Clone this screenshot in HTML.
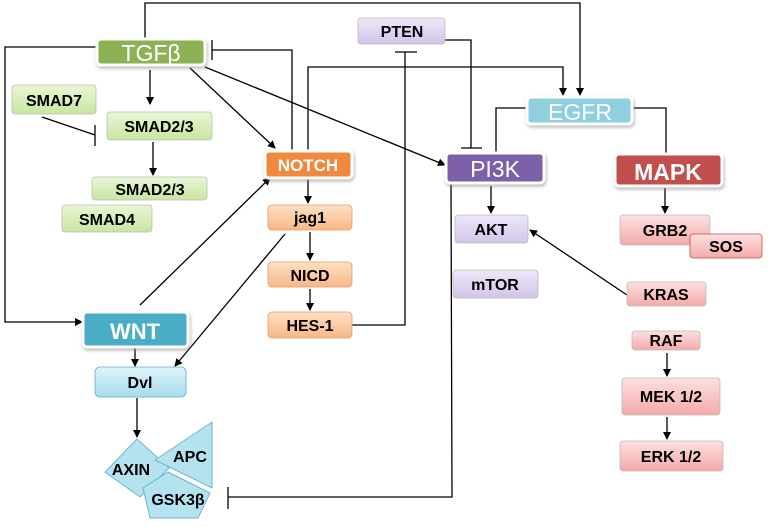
<!DOCTYPE html>
<html><head><meta charset="utf-8"><style>
body{margin:0;background:#fff;}
svg{display:block;font-family:"Liberation Sans",sans-serif;font-weight:bold;}
</style></head><body>
<svg width="768" height="527" viewBox="0 0 768 527" xmlns="http://www.w3.org/2000/svg">
<defs>
<marker id="a" markerWidth="8" markerHeight="8" refX="7" refY="4" orient="auto" markerUnits="userSpaceOnUse"><path d="M0,0 L8,4 L0,8z" fill="#000"/></marker>
<linearGradient id="gL" x1="0" y1="0" x2="0" y2="1"><stop offset="0" stop-color="#eaf6d6"/><stop offset="1" stop-color="#c8e6a0"/></linearGradient>
<linearGradient id="oL" x1="0" y1="0" x2="0" y2="1"><stop offset="0" stop-color="#fde0c4"/><stop offset="1" stop-color="#f8b888"/></linearGradient>
<linearGradient id="pL" x1="0" y1="0" x2="0" y2="1"><stop offset="0" stop-color="#efe8f8"/><stop offset="1" stop-color="#d2c4ea"/></linearGradient>
<linearGradient id="rL" x1="0" y1="0" x2="0" y2="1"><stop offset="0" stop-color="#fde0e0"/><stop offset="1" stop-color="#f4aaaa"/></linearGradient>
<linearGradient id="bL" x1="0" y1="0" x2="0" y2="1"><stop offset="0" stop-color="#def4fb"/><stop offset="1" stop-color="#a8dcec"/></linearGradient>
<filter id="sh" x="-10%" y="-20%" width="120%" height="150%"><feDropShadow dx="1" dy="2" stdDeviation="1.5" flood-color="#888" flood-opacity="0.6"/></filter>
</defs>
<g stroke="#000" stroke-width="1.3" fill="none">
<path d="M145,40 V3 H580 V95" marker-end="url(#a)"/>
<path d="M97,47 H5 V322 H82" marker-end="url(#a)"/>
<path d="M150,70 V104" marker-end="url(#a)"/>
<path d="M153,142 V175" marker-end="url(#a)"/>
<path d="M42,117 L95,135"/><path d="M95,125 V146"/>
<path d="M190,68 L275,148" marker-end="url(#a)"/>
<path d="M205,67 L445,165" marker-end="url(#a)"/>
<path d="M292,150 V50 H212"/><path d="M212,40 V60"/>
<path d="M308,150 V67 H563 V95" marker-end="url(#a)"/>
<path d="M308,178 V203" marker-end="url(#a)"/>
<path d="M310,232 V260" marker-end="url(#a)"/>
<path d="M310,289 V310" marker-end="url(#a)"/>
<path d="M140,305 L270,178" marker-end="url(#a)"/>
<path d="M285,234 L175,366" marker-end="url(#a)"/>
<path d="M352,325 H405 V52"/><path d="M395,52 H417"/>
<path d="M445,40 H471 V148"/><path d="M461,148 H482"/>
<path d="M527,108 H496 V153"/>
<path d="M632,108 H666 V154"/>
<path d="M491,186 V213" marker-end="url(#a)"/>
<path d="M665,188 V213" marker-end="url(#a)"/>
<path d="M627,295 L530,230" marker-end="url(#a)"/>
<path d="M451,183 L452,497 H228"/><path d="M228,487 V509"/>
<path d="M135,348 V366" marker-end="url(#a)"/>
<path d="M137,398 V437" marker-end="url(#a)"/>
<path d="M667,353 V376" marker-end="url(#a)"/>
<path d="M667,417 V439" marker-end="url(#a)"/>
</g>
<g stroke="#fff" stroke-width="3" filter="url(#sh)">
<rect x="97" y="39" width="108" height="26" rx="4" fill="#8db255"/>
<rect x="265" y="151" width="87" height="27" rx="4" fill="#f0883e"/>
<rect x="527" y="97" width="105" height="27" rx="4" fill="#8fcfdf"/>
<rect x="446" y="153" width="98" height="30" rx="4" fill="#7d60a8"/>
<rect x="615" y="154" width="107" height="32" rx="4" fill="#c0504d"/>
<rect x="83" y="312" width="105" height="35" rx="4" fill="#4bacc6"/>
</g>
<g fill="#fff" text-anchor="middle">
<text x="151" y="61" font-size="23" font-weight="normal">TGFβ</text>
<text x="308" y="171" font-size="17">NOTCH</text>
<text x="580" y="120" font-size="23" font-weight="normal">EGFR</text>
<text x="495" y="177" font-size="23" font-weight="normal">PI3K</text>
<text x="668" y="180" font-size="23">MAPK</text>
<text x="135" y="339" font-size="22">WNT</text>
</g>
<g stroke="#bbb" stroke-width="0.8">
<rect x="12" y="85" width="84" height="29" rx="3" fill="url(#gL)"/>
<rect x="107" y="112" width="105" height="28" rx="3" fill="url(#gL)"/>
<rect x="92" y="177" width="115" height="23" rx="3" fill="url(#gL)"/>
<rect x="62" y="205" width="90" height="27" rx="3" fill="url(#gL)"/>
<rect x="268" y="205" width="84" height="25" rx="4" fill="url(#oL)" stroke="#e89c60"/>
<rect x="268" y="262" width="84" height="25" rx="4" fill="url(#oL)" stroke="#e89c60"/>
<rect x="268" y="312" width="84" height="26" rx="4" fill="url(#oL)" stroke="#e89c60"/>
<rect x="358" y="18" width="87" height="26" rx="3" fill="url(#pL)"/>
<rect x="455" y="215" width="73" height="28" rx="3" fill="url(#pL)"/>
<rect x="453" y="270" width="85" height="28" rx="3" fill="url(#pL)"/>
<rect x="620" y="215" width="90" height="30" rx="3" fill="url(#rL)"/>
<rect x="690" y="234" width="72" height="24" rx="3" fill="url(#rL)" stroke="#c05050"/>
<rect x="627" y="282" width="79" height="24" rx="3" fill="url(#rL)"/>
<rect x="632" y="331" width="68" height="19" rx="3" fill="url(#rL)"/>
<rect x="622" y="378" width="98" height="37" rx="3" fill="url(#rL)"/>
<rect x="620" y="441" width="103" height="30" rx="3" fill="url(#rL)"/>
<rect x="95" y="367" width="91" height="30" rx="5" fill="url(#bL)" stroke="#5ab0cc"/>
</g>
<g fill="#b4e2ef" stroke="#6ab8d0" stroke-width="1">
<polygon points="137,439 169,468 140,497 105,472"/>
<polygon points="212,422 212,488 155,460"/>
<polygon points="168,472 210,493 198,518 150,518 143,488"/>
</g>
<g fill="#000" text-anchor="middle" font-size="16">
<text x="54" y="106">SMAD7</text>
<text x="159" y="132">SMAD2/3</text>
<text x="150" y="195">SMAD2/3</text>
<text x="107" y="225">SMAD4</text>
<text x="310" y="223">jag1</text>
<text x="310" y="281">NICD</text>
<text x="310" y="331">HES-1</text>
<text x="402" y="37">PTEN</text>
<text x="491" y="235">AKT</text>
<text x="495" y="290">mTOR</text>
<text x="665" y="236">GRB2</text>
<text x="726" y="252">SOS</text>
<text x="666" y="300">KRAS</text>
<text x="666" y="346">RAF</text>
<text x="671" y="402">MEK 1/2</text>
<text x="671" y="462">ERK 1/2</text>
<text x="140" y="388">Dvl</text>
<text x="131" y="475">AXIN</text>
<text x="190" y="462">APC</text>
<text x="178" y="505">GSK3β</text>
</g>
</svg>
</body></html>
